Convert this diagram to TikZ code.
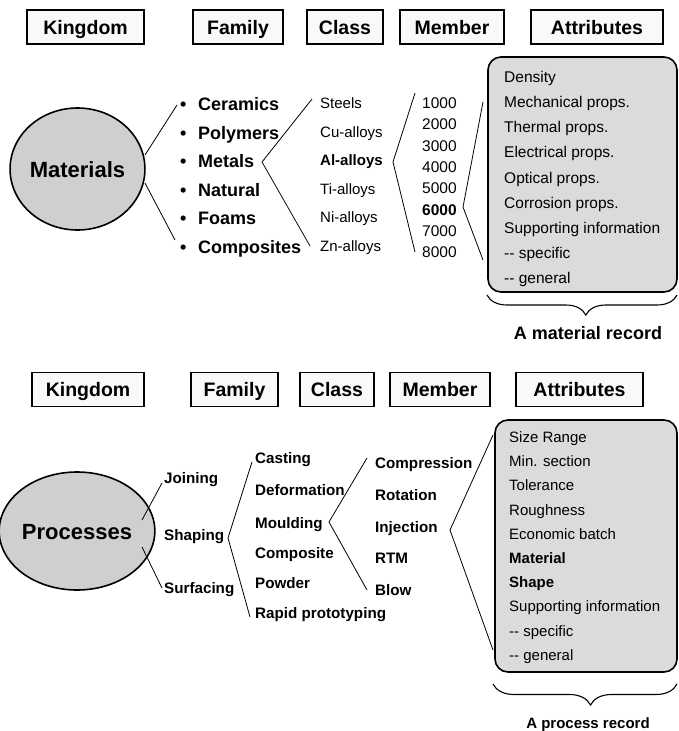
\documentclass[tikz,border=0pt]{standalone}
\usepackage{fontspec}
\setmainfont{Liberation Sans}
\usetikzlibrary{shapes.geometric,decorations.pathreplacing}
\begin{document}
\begin{tikzpicture}[x=1pt,y=-1pt,
 hdr/.style={draw, line width=1.1pt, fill=gray!5, inner sep=0pt, minimum height=34pt, text height=14pt, text depth=0pt, font=\fontsize{19.5}{20}\selectfont\bfseries},
 circ/.style={ellipse, draw, line width=1.6pt, fill=gray!38, inner sep=0pt, text height=16pt, text depth=0pt, font=\fontsize{22}{24}\selectfont\bfseries},
 famM/.style={anchor=base west, yshift=-6.5pt, inner sep=0pt, font=\fontsize{18}{20}\selectfont\bfseries},
 regtx/.style={anchor=base west, yshift=-5.4pt, inner sep=0pt, font=\fontsize{15}{17}\selectfont},
 regbold/.style={anchor=base west, yshift=-5.4pt, inner sep=0pt, font=\fontsize{15}{17}\selectfont\bfseries},
 numtx/.style={anchor=base west, yshift=-5.6pt, inner sep=0pt, font=\fontsize{15.5}{17}\selectfont},
 attM/.style={anchor=base west, yshift=-5.6pt, inner sep=0pt, font=\fontsize{15.5}{17}\selectfont},
 attP/.style={anchor=base west, yshift=-5.4pt, inner sep=0pt, font=\fontsize{15}{17}\selectfont},
 attPb/.style={attP, font=\fontsize{15}{17}\selectfont\bfseries},
 procb/.style={anchor=base west, yshift=-5.5pt, inner sep=0pt, font=\fontsize{15.2}{17}\selectfont\bfseries},
 attbox/.style={draw, line width=1.6pt, fill=gray!28, rounded corners=13pt, inner sep=0pt},
 conn/.style={line width=0.8pt},
 brc/.style={decorate, decoration={brace, mirror, amplitude=20pt, aspect=0.52}, line width=1.1pt}
]
\useasboundingbox (0,0) rectangle (678,731);

% ---------------- Materials headers ----------------
\node[hdr, minimum width=117pt] (hK1) at (85.5,27) {Kingdom};
\node[hdr, minimum width=90pt] (hF1) at (238,27) {Family};
\node[hdr, minimum width=76pt] (hC1) at (345,27) {Class};
\node[hdr, minimum width=104pt] (hM1) at (452,27) {Member};
\node[hdr, minimum width=132pt] (hA1) at (597,27) {Attributes};

% ---------------- Materials tree ----------------
\node[circ, minimum width=129pt, minimum height=122pt] (mat) at (77.5,169) {Materials};

\node[famM] (mCer) at (180,104) {\makebox[18pt][l]{•}Ceramics};
\node[famM] (mPol) at (180,132.6) {\makebox[18pt][l]{•}Polymers};
\node[famM] (mMet) at (180,161.2) {\makebox[18pt][l]{•}Metals};
\node[famM] (mNat) at (180,189.8) {\makebox[18pt][l]{•}Natural};
\node[famM] (mFoa) at (180,218.4) {\makebox[18pt][l]{•}Foams};
\node[famM] (mCom) at (180,247) {\makebox[18pt][l]{•}Composites};

\node[regtx] (cSte) at (320,103) {Steels};
\node[regtx] (cCu) at (320,131.6) {Cu-alloys};
\node[regbold] (cAl) at (320,160.2) {Al-alloys};
\node[regtx] (cTi) at (320,188.8) {Ti-alloys};
\node[regtx] (cNi) at (320,217.4) {Ni-alloys};
\node[regtx] (cZn) at (320,246) {Zn-alloys};

\node[numtx] (n1) at (422,103) {1000};
\node[numtx] (n2) at (422,124.3) {2000};
\node[numtx] (n3) at (422,145.6) {3000};
\node[numtx] (n4) at (422,166.9) {4000};
\node[numtx] (n5) at (422,188.2) {5000};
\node[numtx, font=\fontsize{15.5}{17}\selectfont\bfseries] (n6) at (422,209.5) {6000};
\node[numtx] (n7) at (422,230.8) {7000};
\node[numtx] (n8) at (422,252.1) {8000};

\node[attbox, minimum width=189pt, minimum height=235pt] (mbox) at (582.5,174.5) {};
\node[attM] (a1) at (504,77) {Density};
\node[attM] (a2) at (504,102.1) {Mechanical props.};
\node[attM] (a3) at (504,127.2) {Thermal props.};
\node[attM] (a4) at (504,152.3) {Electrical props.};
\node[attM] (a5) at (504,177.4) {Optical props.};
\node[attM] (a6) at (504,202.5) {Corrosion props.};
\node[attM] (a7) at (504,227.6) {Supporting information};
\node[attM] (a8) at (504,252.7) {-{}- specific};
\node[attM] (a9) at (504,277.8) {-{}- general};

\coordinate (mL1a) at (145,155);
\coordinate (mL1b) at (177,105);
\coordinate (mL2a) at (145,183);
\coordinate (mL2b) at (175,240);
\draw[conn] (mL1a) -- (mL1b);
\draw[conn] (mL2a) -- (mL2b);

\coordinate (vMet) at (262,162);
\coordinate (vMetU) at (312,99);
\coordinate (vMetD) at (310,246);
\draw[conn] (vMetU) -- (vMet) -- (vMetD);

\coordinate (vAl) at (393,162);
\coordinate (vAlU) at (415,93);
\coordinate (vAlD) at (415,252);
\draw[conn] (vAlU) -- (vAl) -- (vAlD);

\coordinate (v6) at (463,207);
\coordinate (v6U) at (483,102);
\coordinate (v6D) at (483,260);
\draw[conn] (v6U) -- (v6) -- (v6D);

\coordinate (bm1) at (487,295);
\coordinate (bm2) at (677,295);
\draw[brc] (bm1) -- (bm2);
\node[inner sep=0pt, text height=13pt, text depth=0pt, font=\fontsize{18}{20}\selectfont\bfseries] (recM) at (588,333) {A material record};

% ---------------- Processes headers ----------------
\node[hdr, minimum width=112pt] (hK2) at (88,389.5) {Kingdom};
\node[hdr, minimum width=87pt] (hF2) at (234.5,389.5) {Family};
\node[hdr, minimum width=74pt] (hC2) at (337,389.5) {Class};
\node[hdr, minimum width=100pt] (hM2) at (440,389.5) {Member};
\node[hdr, minimum width=127pt] (hA2) at (579.5,389.5) {Attributes};

% ---------------- Processes tree ----------------
\node[circ, minimum width=124pt, minimum height=118pt] (proc) at (77,531) {Processes};

\node[procb] (pJ) at (164,478) {Joining};
\node[procb] (pS) at (164,535) {Shaping};
\node[procb] (pSu) at (164,588) {Surfacing};

\node[procb] (fCa) at (255,458) {Casting};
\node[procb] (fDe) at (255,490) {Deformation};
\node[procb] (fMo) at (255,523) {Moulding};
\node[procb] (fCo) at (255,553) {Composite};
\node[procb] (fPo) at (255,583) {Powder};
\node[procb] (fRa) at (255,613) {Rapid prototyping};

\node[procb] (kCo) at (375,463) {Compression};
\node[procb] (kRo) at (375,494.75) {Rotation};
\node[procb] (kIn) at (375,526.5) {Injection};
\node[procb] (kRT) at (375,558.25) {RTM};
\node[procb] (kBl) at (375,590) {Blow};

\node[attbox, minimum width=182pt, minimum height=252pt] (pbox) at (586,546) {};
\node[attP] (b1) at (509,437) {Size Range};
\node[attP] (b2) at (509,461.2) {Min. section};
\node[attP] (b3) at (509,485.4) {Tolerance};
\node[attP] (b4) at (509,509.6) {Roughness};
\node[attP] (b5) at (509,533.8) {Economic batch};
\node[attPb] (b6) at (509,558) {Material};
\node[attPb] (b7) at (509,582.2) {Shape};
\node[attP] (b8) at (509,606.4) {Supporting information};
\node[attP] (b9) at (509,630.6) {-{}- specific};
\node[attP] (b10) at (509,654.8) {-{}- general};

\coordinate (pL1a) at (142,520);
\coordinate (pL1b) at (162,483);
\coordinate (pL2a) at (142,547);
\coordinate (pL2b) at (162,588);
\draw[conn] (pL1a) -- (pL1b);
\draw[conn] (pL2a) -- (pL2b);

\coordinate (vSh) at (228,538);
\coordinate (vShU) at (252,462);
\coordinate (vShD) at (250,617);
\draw[conn] (vShU) -- (vSh) -- (vShD);

\coordinate (vMo) at (329,522);
\coordinate (vMoU) at (367,458);
\coordinate (vMoD) at (367,590);
\draw[conn] (vMoU) -- (vMo) -- (vMoD);

\coordinate (vIn) at (450,530);
\coordinate (vInU) at (493,435);
\coordinate (vInD) at (493,650);
\draw[conn] (vInU) -- (vIn) -- (vInD);

\coordinate (bp1) at (493,684);
\coordinate (bp2) at (677,684);
\draw[brc, decoration={brace, mirror, amplitude=21pt, aspect=0.53}] (bp1) -- (bp2);
\node[inner sep=0pt, text height=11pt, text depth=0pt, font=\fontsize{15}{17}\selectfont\bfseries] (recP) at (588,723) {A process record};
\end{tikzpicture}
\end{document}
